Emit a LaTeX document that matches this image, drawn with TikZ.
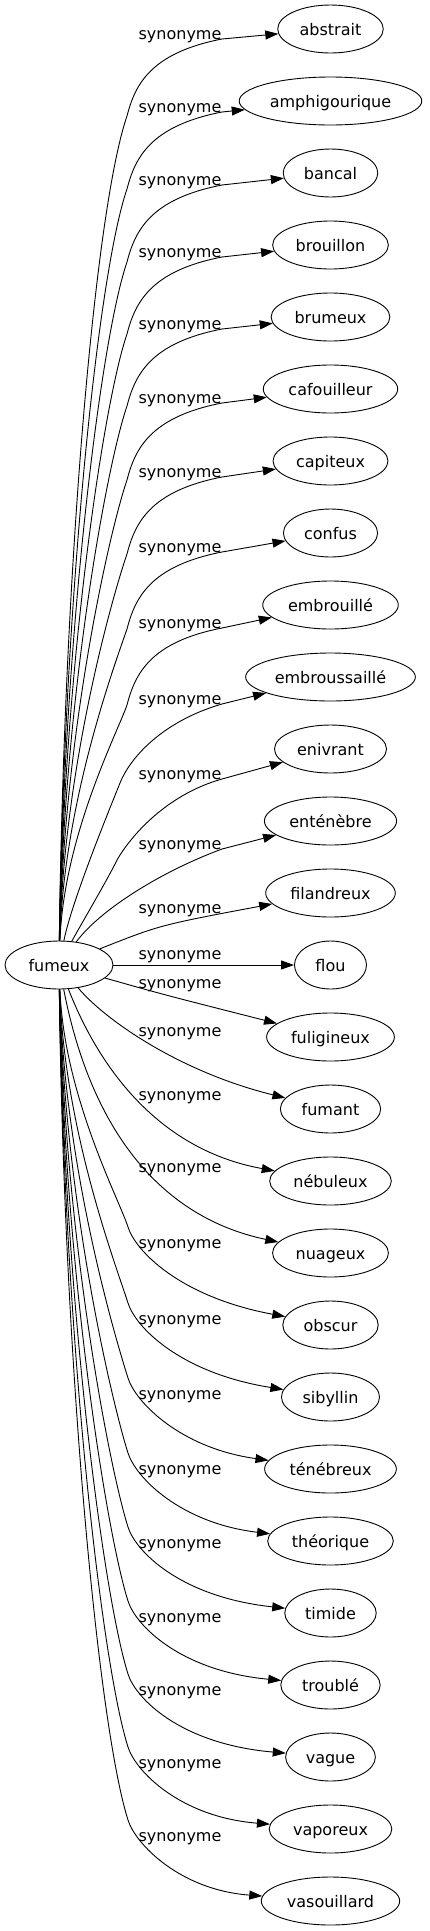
\documentclass[tikz,border=0pt]{standalone}
\usepackage{fontspec}
\setmainfont{DejaVu Sans}
\usetikzlibrary{shapes.geometric,arrows.meta}
\tikzset{
  syn/.style={draw, ellipse, minimum height=48pt, inner sep=0pt, text height=12pt, text depth=0pt, line width=0.9pt},
  lab/.style={inner sep=0pt, text height=12pt, text depth=0pt},
  synedge/.style={draw, line width=0.9pt, -{Triangle[length=13pt,width=9pt]}},
}
\begin{document}
\begin{tikzpicture}[x=1pt,y=-1pt]
\fontsize{16pt}{19pt}\selectfont
\useasboundingbox (0,0) rectangle (429,1931);
\node[syn, minimum width=108pt] (fumeux) at (59,965) {fumeux};
\foreach \i/\t in {0/abstrait,1/amphigourique,2/bancal,3/brouillon,4/brumeux,5/cafouilleur,6/capiteux,7/confus,8/embrouillé,9/embroussaillé,10/enivrant,11/enténèbre,12/filandreux,13/flou,14/fuligineux,15/fumant,16/nébuleux,17/nuageux,18/obscur,19/sibyllin,20/ténébreux,21/théorique,22/timide,23/troublé,24/vague,25/vaporeux,26/vasouillard}{
  \pgfmathsetmacro\w{max(72,1.29*width("\t")+26)}
  \node[syn, minimum width=\w pt] (n\i) at (330.5,{29+72*\i}) {\t};
}
\foreach \i/\yl in {0/33,1/106,2/179,3/251,4/323,5/397,6/471,7/546,8/622,9/698,10/773,11/843,12/907,13/953,14/982,15/1030,16/1094,17/1166,18/1242,19/1318,20/1393,21/1468,22/1542,23/1616,24/1689,25/1762,26/1835}{
  \node[lab] (l\i) at (180,\yl) {synonyme};
}
% upper edges
\foreach \i/\yl in {0/33,1/106,2/179,3/251,4/323,5/397,6/471,7/546,8/622}{
  \pgfmathsetmacro\D{859-\yl}
  \draw[synedge] (fumeux) .. controls (64,{942-0.45*\D}) and ({127-0.039*\D},{\yl+83+0.1135*\D}) .. (127,{\yl+83})
     .. controls (135,{\yl+52}) and (150,{\yl+20}) .. (222,{\yl+6}) -- (n\i);
}
\draw[synedge] (fumeux) .. controls (72,900) and (112.6,801.6) .. (120,783) .. controls (129,760) and (160,722) .. (222,704) -- (n9);
\draw[synedge] (fumeux) .. controls (78.4,929) and (108.4,878) .. (117,860) .. controls (129.5,838) and (165,795) .. (222,779) -- (n10);
\draw[synedge] (fumeux) .. controls (100,910) and (160,872) .. (222,849) -- (n11);
\draw[synedge] (fumeux) .. controls (160,925) .. (n12);
\draw[synedge] (fumeux) -- (n13);
\draw[synedge] (fumeux) .. controls (165,995) .. (n14);
\draw[synedge] (fumeux) .. controls (105,1020) and (180,1072) .. (n15);
\draw[synedge] (fumeux) .. controls (100,1070) and (160,1150) .. (n16);
\draw[synedge] (fumeux) .. controls (88,1115) and (150,1215) .. (n17);
% lower edges
\foreach \i/\yl in {18/1242,19/1318,20/1393,21/1468,22/1542,23/1616,24/1689,25/1762,26/1835}{
  \pgfmathsetmacro\D{\yl-1004}
  \draw[synedge] (fumeux) .. controls (64,{989+0.45*\D}) and ({128-0.036*\D},{\yl-15-0.114*\D}) .. (128,{\yl-15})
     .. controls (135.5,{\yl+9}) and (180,{\yl+55}) .. (n\i);
}
\end{tikzpicture}
\end{document}
